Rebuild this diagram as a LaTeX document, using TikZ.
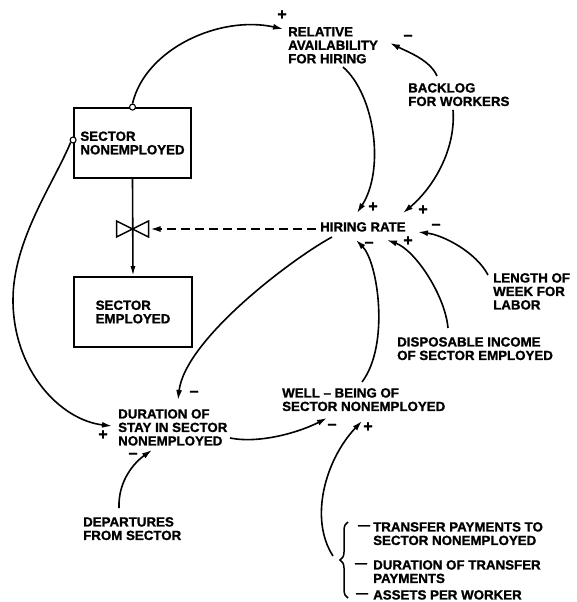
\documentclass[tikz,border=0pt]{standalone}
\usepackage{fontspec}
\setmainfont{Liberation Sans}[BoldFeatures={FakeBold=1.2}]
\usetikzlibrary{arrows.meta,decorations.pathreplacing}
\begin{document}
\begin{tikzpicture}[x=1pt,y=-1pt,
  lbl/.style={font=\fontsize{13.3}{13.5}\selectfont\bfseries, align=left, inner sep=0pt, anchor=north west},
  sgn/.style={font=\fontsize{16}{16}\selectfont\bfseries, inner sep=0pt},
  arr/.style={line width=1.6pt, -{Latex[length=10pt,width=6pt]}},
  boxst/.style={draw, line width=1.8pt, font=\fontsize{13.3}{13.5}\selectfont\bfseries, align=left, inner sep=0pt},
  knob/.style={circle, draw, fill=white, line width=1.1pt, inner sep=0pt, minimum size=6pt},
  dsh/.style={font=\fontsize{12}{12}\selectfont\bfseries, inner sep=0pt}
]
\useasboundingbox[fill=white] (0,0) rectangle (577,602);

% levels
\node[boxst, minimum width=117pt, minimum height=70pt] (sne) at (132.5,143) {SECTOR\\NONEMPLOYED};
\node[boxst, minimum width=118pt, minimum height=70pt] (se) at (133,312) {SECTOR\\EMPLOYED};

% flow with valve
\draw[line width=1.6pt, -{Latex[length=10pt,width=5pt]}] (sne.south) -- (se.north);
\coordinate (valve) at (132.5,229);
\draw[line width=1.5pt] (valve) -- ++(-16,-8) -- ++(0,16) -- cycle;
\draw[line width=1.5pt] (valve) -- ++(16,-8) -- ++(0,16) -- cycle;

% labels
\node[lbl] (rel) at (288,27) {RELATIVE\\AVAILABILITY\\FOR HIRING};
\node[lbl] (backlog) at (408,83) {BACKLOG\\FOR WORKERS};
\node[lbl] (hr) at (320,222) {HIRING RATE};
\node[lbl] (length) at (493,273) {LENGTH OF\\WEEK FOR\\LABOR};
\node[lbl] (disp) at (397,337) {DISPOSABLE INCOME\\OF SECTOR EMPLOYED};
\node[lbl] (well) at (282,388) {WELL – BEING OF\\SECTOR NONEMPLOYED};
\node[lbl] (dur) at (118,409) {DURATION OF\\STAY IN SECTOR\\NONEMPLOYED};
\node[lbl] (dep) at (83,517) {DEPARTURES\\FROM SECTOR};
\node[lbl] (tp) at (373,522) {TRANSFER PAYMENTS TO\\SECTOR NONEMPLOYED};
\node[lbl] (dtp) at (373,560) {DURATION OF TRANSFER\\PAYMENTS};
\node[lbl] (apw) at (373,590) {ASSETS PER WORKER};
\node[dsh] (d1) at (364,527) {—};
\node[dsh] (d2) at (361,565) {—};
\node[dsh] (d3) at (362,595) {—};

% brace
\draw[line width=1.5pt, decorate, decoration={brace, amplitude=8pt}] (348,598) -- (348,522);
\coordinate (bt) at (333,556);

% knobs on the level
\node[knob] (c1) at (sne.north) {};
\node[knob] (c2) at ([yshift=3]sne.west) {};

% connectors
\draw[arr] (c1.north) .. controls +(13,-55) and +(-63,-14) .. ([shift={(-5,2)}]rel.north west);
\draw[arr] (c2.south west) .. controls +(-17,41) and +(0,-60) .. (13,300) .. controls +(0,70) and +(-52,-6) .. ([shift={(-6,17)}]dur.north west);
\draw[arr] ([shift={(55,40)}]rel.north west) .. controls +(32,28) and +(28,-43) .. ([shift={(37,-9)}]hr.north west);
\draw[arr] ([shift={(29,-7)}]backlog.north west) .. controls +(-7,-16) and +(18,9) .. ([shift={(102,16)}]rel.north west);
\draw[arr] ([shift={(45,27)}]backlog.north west) .. controls +(3,40) and +(30,-25) .. ([shift={(83,-9)}]hr.north west);
\draw[arr] ([shift={(-5,2)}]length.north west) .. controls +(-12,-23) and +(25,3) .. ([shift={(98,10)}]hr.north west);
\draw[arr] ([shift={(51,-9)}]disp.north west) .. controls +(-3,-33) and +(28,10) .. ([shift={(67,18)}]hr.north west);
\draw[arr] ([shift={(80,-6)}]well.north west) .. controls +(28,-37) and +(22,22) .. ([shift={(36,18)}]hr.north west);
\draw[arr] ([shift={(12,15)}]hr.north west) .. controls +(-42,23) and +(7,-60) .. ([shift={(60,-9)}]dur.north west);
\draw[arr] ([shift={(36,-9)}]dep.north west) .. controls +(-1,-28) and +(-17,12) .. ([shift={(34,41)}]dur.north west);
\draw[arr] ([shift={(112,29)}]dur.north west) .. controls +(30,6) and +(-27,14) .. ([shift={(45,30)}]well.north west);
\draw[arr] (bt) .. controls +(-24,-37) and +(-37,39) .. ([shift={(80,33)}]well.north west);
\draw[line width=1.6pt, dash pattern=on 9pt off 5pt, -{Latex[length=10pt,width=6pt]}] ([shift={(-4,7)}]hr.north west) -- ([xshift=18]valve);

% polarity signs
\node[sgn] (s1) at (282,15) {+};
\node[sgn] (s2) at (408,38) {−};
\node[sgn] (s3) at (373,207) {+};
\node[sgn] (s4) at (423,210) {+};
\node[sgn] (s5) at (436,227) {−};
\node[sgn] (s6) at (408,241) {+};
\node[sgn] (s7) at (369,245) {−};
\node[sgn] (s8) at (194,394) {−};
\node[sgn] (s9) at (103,435) {+};
\node[sgn] (s10) at (133,456) {−};
\node[sgn] (s11) at (332,427) {−};
\node[sgn] (s12) at (368,427) {+};
\end{tikzpicture}
\end{document}
